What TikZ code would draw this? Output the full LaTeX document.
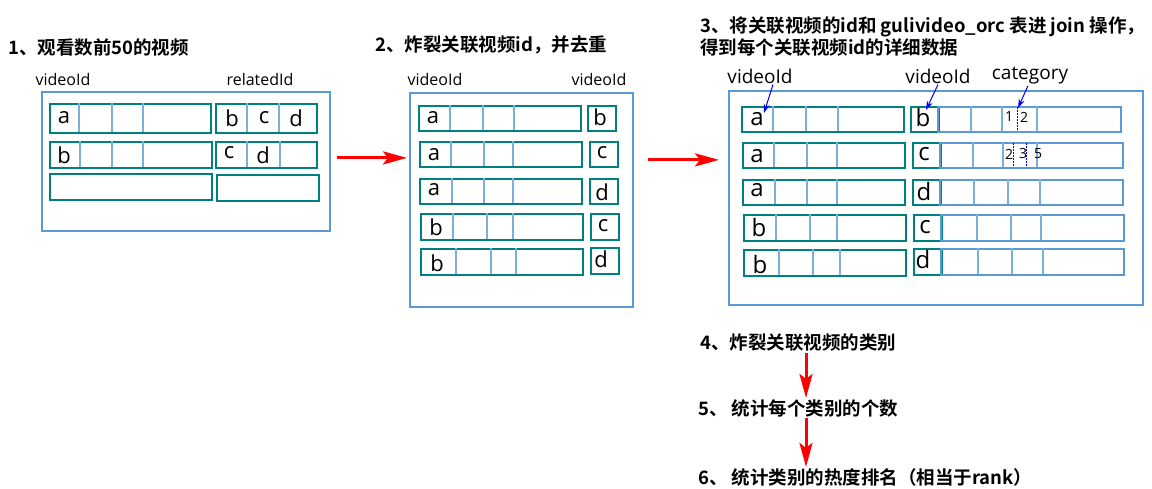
\documentclass[tikz,border=0pt]{standalone}
\usepackage{fontspec}
\setmainfont{Open Sans}
\newfontfamily\cjkbold{Noto Sans CJK SC Bold}
\usetikzlibrary{arrows.meta,positioning,calc}

\definecolor{boxblue}{HTML}{5B9BD5}
\definecolor{rowteal}{HTML}{00807F}
\definecolor{flowred}{HTML}{FF0000}
\definecolor{tipblue}{HTML}{0000FF}

\tikzset{
  vt/panel/.style={draw=boxblue, line width=1.8pt, anchor=north west, inner sep=0pt},
  vt/row/.style={draw=rowteal, line width=2pt, anchor=north west, inner sep=0pt},
  vt/cols/.style={draw=boxblue, line width=2pt, anchor=north west, inner sep=0pt},
  vt/divider/.style={draw=boxblue!80, line width=1.2pt},
  vt/header/.style={font=\fontsize{16}{19}\selectfont, inner sep=1pt},
  vt/bighead/.style={font=\fontsize{19}{22}\selectfont, inner sep=1pt},
  vt/cell/.style={font=\fontsize{22}{26}\selectfont, inner sep=1pt},
  vt/bigcell/.style={font=\fontsize{24}{28}\selectfont, inner sep=1pt},
  vt/num/.style={font=\fontsize{14}{16}\selectfont, inner sep=0pt},
  vt/title/.style={font=\cjkbold\fontsize{18.5}{22}\selectfont, anchor=west, inner sep=1pt, align=left},
  vt/flow/.style={draw=flowred, line width=3pt, -{Stealth[length=24pt,width=13pt,inset=5pt]}},
  vt/pointer/.style={draw=tipblue, line width=1pt, -{Stealth[length=9pt,width=6pt]}},
  vt/split/.style={draw=tipblue, line width=0.8pt, dash pattern=on 2pt off 1pt}
}
% one table row: style, name, x, y, width, height, column lines
\newcommand{\datarow}[7][vt/row]{%
  \node[#1, minimum width=#5, minimum height=#6] (#2) at (#3,#4) {};
  \foreach \d in {#7} {\draw[vt/divider] (\d,#4) -- ++(0,#6);}
}

\begin{document}
\begin{tikzpicture}[x=1pt, y=-1pt]
  \useasboundingbox (0,0) rectangle (1152,489);

  % step 1
  \node[vt/title] (t1) at (7,47) {1、观看数前50的视频};
  \node[vt/header] (p1hid) at (63,80) {videoId};
  \node[vt/header] (p1hrel) at (260,80) {relatedId};
  \node[vt/panel, minimum width=288, minimum height=139] (p1box) at (41,91) {};
  \datarow{p1l1}{49}{103}{161}{29}{79,112,143}
  \datarow{p1r1}{215}{103}{101}{29}{247,279}
  \datarow{p1l2}{49}{141}{162}{26}{80,112,143}
  \datarow{p1r2}{215}{141}{101}{26}{247,280}
  \node[vt/row, minimum width=162, minimum height=26] (p1l3) at (49,173) {};
  \node[vt/row, minimum width=102, minimum height=26] (p1r3) at (216,174) {};
  \node[vt/cell] (p1a) at (64,118) {a};
  \node[vt/cell] (p1b) at (232,118) {b};
  \node[vt/cell] (p1c) at (264,118) {c};
  \node[vt/cell] (p1d) at (296,118) {d};
  \node[vt/cell] (p1b2) at (64,155) {b};
  \node[vt/cell] (p1c2) at (229,153) {c};
  \node[vt/cell] (p1d2) at (263,155) {d};

  % step 2
  \node[vt/title] (t2) at (374,45) {2、炸裂关联视频id，并去重};
  \node[vt/header] (p2hid) at (435,80) {videoId};
  \node[vt/header] (p2hrel) at (599,80) {videoId};
  \node[vt/panel, minimum width=223, minimum height=214] (p2box) at (409,92) {};
  \datarow{p2l1}{418}{105}{162}{25}{450,483,514}
  \datarow{p2l2}{419}{141}{162}{25}{451,484,513}
  \datarow{p2l3}{419}{178}{162}{25}{452,484,513}
  \datarow{p2l4}{420}{213}{162}{26}{453,487,513}
  \datarow{p2l5}{420}{248}{162}{26}{456,491,516}
  \node[vt/row, minimum width=28, minimum height=25] (p2r1) at (587,105) {};
  \node[vt/row, minimum width=28, minimum height=25] (p2r2) at (589,141) {};
  \node[vt/row, minimum width=28, minimum height=25] (p2r3) at (589,178) {};
  \node[vt/row, minimum width=28, minimum height=26] (p2r4) at (590,213) {};
  \node[vt/row, minimum width=28, minimum height=26] (p2r5) at (590,247) {};
  \node[vt/cell] (p2a1) at (433,118) {a};
  \node[vt/cell] (p2a2) at (434,155) {a};
  \node[vt/cell] (p2a3) at (434,190) {a};
  \node[vt/cell] (p2b4) at (436,227) {b};
  \node[vt/cell] (p2b5) at (437,263) {b};
  \node[vt/cell] (p2x1) at (600,117) {b};
  \node[vt/cell] (p2x2) at (602,153) {c};
  \node[vt/cell] (p2x3) at (602,192) {d};
  \node[vt/cell] (p2x4) at (603,226) {c};
  \node[vt/cell] (p2x5) at (601,259) {d};

  % step 3
  \node[vt/title] (t3) at (699,37) {3、将关联视频的id和 gulivideo\_orc 表进 join 操作，\\得到每个关联视频id的详细数据};
  \node[vt/bighead] (p3hv1) at (760,76) {videoId};
  \node[vt/bighead] (p3hv2) at (938,76) {videoId};
  \node[vt/bighead] (p3hcat) at (1030,76) {category};
  \node[vt/panel, minimum width=414, minimum height=214] (p3box) at (728,90) {};
  \datarow{p3l1}{741}{106}{162}{25}{773,806,838}
  \datarow{p3l2}{742}{142}{162}{25}{774,807,837}
  \datarow{p3l3}{742}{179}{162}{25}{775,807,837}
  \datarow{p3l4}{743}{214}{162}{26}{776,810,837}
  \datarow{p3l5}{743}{249}{162}{26}{779,813,840}
  \node[vt/row, minimum width=28, minimum height=25] (p3k1) at (910,106) {};
  \node[vt/row, minimum width=28, minimum height=25] (p3k2) at (912,142) {};
  \node[vt/row, minimum width=28, minimum height=25] (p3k3) at (912,179) {};
  \node[vt/row, minimum width=28, minimum height=26] (p3k4) at (913,214) {};
  \node[vt/row, minimum width=28, minimum height=26] (p3k5) at (913,248) {};
  \datarow[vt/cols]{p3d1}{937}{106}{183}{25}{971,1002,1037}
  \datarow[vt/cols]{p3d2}{939}{142}{183}{25}{973,1003,1037}
  \datarow[vt/cols]{p3d3}{939}{179}{183}{25}{974,1008,1040}
  \datarow[vt/cols]{p3d4}{940}{214}{183}{26}{977,1011,1041}
  \datarow[vt/cols]{p3d5}{940}{248}{183}{26}{978,1012,1043}
  \node[vt/bigcell] (p3a1) at (757,119) {a};
  \node[vt/bigcell] (p3a2) at (757,156) {a};
  \node[vt/bigcell] (p3a3) at (757,190) {a};
  \node[vt/bigcell] (p3b4) at (759,228) {b};
  \node[vt/bigcell] (p3b5) at (760,264) {b};
  \node[vt/bigcell] (p3x1) at (923,118) {b};
  \node[vt/bigcell] (p3x2) at (924,154) {c};
  \node[vt/bigcell] (p3x3) at (924,192) {d};
  \node[vt/bigcell] (p3x4) at (925,227) {c};
  \node[vt/bigcell] (p3x5) at (923,260) {d};
  \draw[vt/split] (1017,107) -- (1017,131);
  \draw[vt/split] (1013,143) -- (1013,167);
  \draw[vt/split] (1026,143) -- (1026,167);
  \node[vt/num] (cat1) at (1009,117) {1};
  \node[vt/num] (cat2) at (1024,117) {2};
  \node[vt/num] (cat3) at (1009,154) {2};
  \node[vt/num] (cat4) at (1023,154) {3};
  \node[vt/num] (cat5) at (1038,154) {5};
  \coordinate (tip1) at (764,113);
  \coordinate (tip2) at (926,110);
  \coordinate (tip3) at (1018,108);
  \draw[vt/pointer] ([xshift=13pt]p3hv1.south) -- (tip1);
  \draw[vt/pointer] (p3hv2.south) -- (tip2);
  \draw[vt/pointer] ([xshift=-2pt]p3hcat.south) -- (tip3);

  % steps 4 to 6
  \node[vt/title] (t4) at (699,343) {4、炸裂关联视频的类别};
  \node[vt/title] (t5) at (697,408) {5、 统计每个类别的个数};
  \node[vt/title] (t6) at (697,477) {6、 统计类别的热度排名（相当于rank）};
  \coordinate (spine) at (806,0);

  \draw[vt/flow, shorten >=2pt] ([xshift=6pt,yshift=3.5pt]p1box.east) coordinate (f1) -- (f1 -| p2box.west);
  \draw[vt/flow, shorten >=9pt] ([xshift=14pt,yshift=40pt]p2box.east) coordinate (f2) -- (f2 -| p3box.west);
  \draw[vt/flow] (t4.south -| spine) -- (t5.north -| spine);
  \draw[vt/flow] (t5.south -| spine) -- (t6.north -| spine);
\end{tikzpicture}
\end{document}
